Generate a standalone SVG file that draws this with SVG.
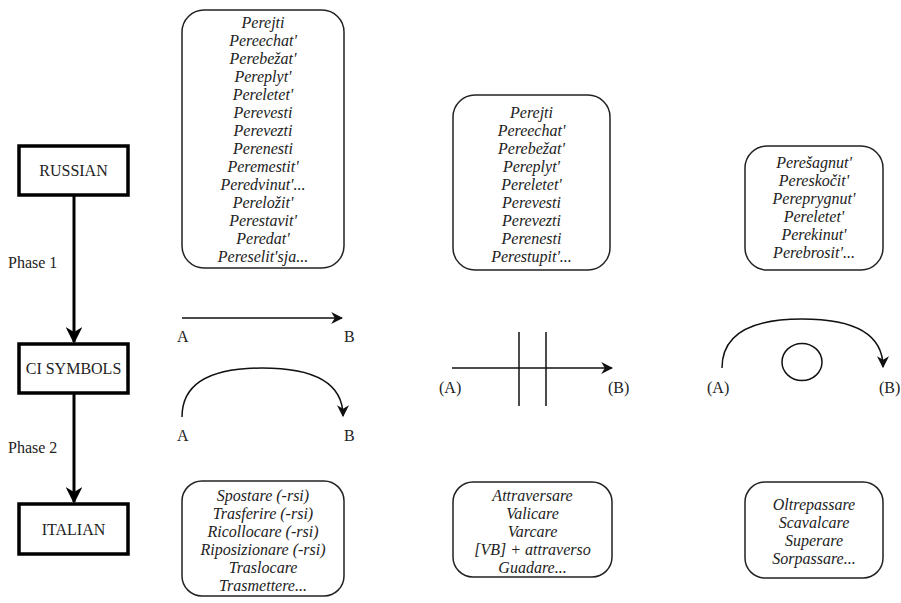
<svg xmlns="http://www.w3.org/2000/svg" width="901" height="603" viewBox="0 0 901 603">
<defs>
<style>
.box{fill:#fff;stroke:#000;stroke-width:3.5}
.rbox{fill:#fff;stroke:#222;stroke-width:1.5}
.lbl{font-family:"Liberation Serif",serif;font-size:16px;fill:#222;text-anchor:middle}
.it{font-family:"Liberation Serif",serif;font-size:16px;font-style:italic;fill:#222;text-anchor:middle}
.sm{font-family:"Liberation Serif",serif;font-size:16px;fill:#222}
.thick{stroke:#000;stroke-width:3;fill:none}
.thin{stroke:#111;stroke-width:1.5;fill:none}
</style>
<marker id="big" viewBox="0 0 10 10" refX="9" refY="5" markerWidth="5.5" markerHeight="5.5" markerUnits="strokeWidth" orient="auto">
<path d="M0,0 L10,5 L0,10 L3,5 Z" fill="#000"/>
</marker>
<marker id="sm" viewBox="0 0 10 10" refX="9" refY="5" markerWidth="8" markerHeight="8" markerUnits="strokeWidth" orient="auto">
<path d="M0,0 L10,5 L0,10 L3,5 Z" fill="#111"/>
</marker>
</defs>
<rect width="901" height="603" fill="#fff"/>

<g id="connectors">
<line class="thick" x1="74" y1="196" x2="74" y2="342" marker-end="url(#big)"/>
<line class="thick" x1="74" y1="394" x2="74" y2="502" marker-end="url(#big)"/>
<text class="sm" x="8" y="268">Phase 1</text>
<text class="sm" x="8" y="453">Phase 2</text>
</g>

<g id="russian"><rect class="box" x="19" y="146" width="109" height="49"/><text class="lbl" x="73.5" y="176">RUSSIAN</text></g>
<g id="ci-symbols"><rect class="box" x="19" y="344" width="109" height="49"/><text class="lbl" x="73.5" y="374">CI SYMBOLS</text></g>
<g id="italian"><rect class="box" x="19" y="504" width="109" height="50"/><text class="lbl" x="73.5" y="535">ITALIAN</text></g>

<g id="ru-list-1">
<rect class="rbox" x="182" y="10" width="162" height="258" rx="22"/>
<text class="it" x="263" y="28">Perejti</text>
<text class="it" x="263" y="46">Pereechat'</text>
<text class="it" x="263" y="64">Perebežat'</text>
<text class="it" x="263" y="82">Pereplyt'</text>
<text class="it" x="263" y="100">Pereletet'</text>
<text class="it" x="263" y="118">Perevesti</text>
<text class="it" x="263" y="136">Perevezti</text>
<text class="it" x="263" y="154">Perenesti</text>
<text class="it" x="263" y="172">Peremestit'</text>
<text class="it" x="263" y="190">Peredvinut'...</text>
<text class="it" x="263" y="208">Pereložit'</text>
<text class="it" x="263" y="226">Perestavit'</text>
<text class="it" x="263" y="244">Peredat'</text>
<text class="it" x="263" y="262">Pereselit'sja...</text>
</g>

<g id="ru-list-2">
<rect class="rbox" x="453" y="95" width="157" height="175" rx="22"/>
<text class="it" x="531.5" y="118">Perejti</text>
<text class="it" x="531.5" y="136">Pereechat'</text>
<text class="it" x="531.5" y="154">Perebežat'</text>
<text class="it" x="531.5" y="172">Pereplyt'</text>
<text class="it" x="531.5" y="190">Pereletet'</text>
<text class="it" x="531.5" y="208">Perevesti</text>
<text class="it" x="531.5" y="226">Perevezti</text>
<text class="it" x="531.5" y="244">Perenesti</text>
<text class="it" x="531.5" y="262">Perestupit'...</text>
</g>

<g id="ru-list-3">
<rect class="rbox" x="745" y="146" width="138" height="124" rx="22"/>
<text class="it" x="814" y="168">Perešagnut'</text>
<text class="it" x="814" y="186">Pereskočit'</text>
<text class="it" x="814" y="204">Pereprygnut'</text>
<text class="it" x="814" y="222">Pereletet'</text>
<text class="it" x="814" y="240">Perekinut'</text>
<text class="it" x="814" y="258">Perebrosit'...</text>
</g>

<g id="symbol-move">
<line class="thin" x1="182" y1="318" x2="342" y2="318" marker-end="url(#sm)"/>
<text class="sm" x="177" y="342">A</text>
<text class="sm" x="344" y="342">B</text>
<path class="thin" d="M182,417 C182,382 212,368 262,368 C312,368 343,382 343,416" marker-end="url(#sm)"/>
<text class="sm" x="177" y="441">A</text>
<text class="sm" x="344" y="441">B</text>
</g>

<g id="symbol-cross">
<line class="thin" x1="452" y1="368" x2="612" y2="368" marker-end="url(#sm)"/>
<line class="thin" x1="519" y1="332" x2="519" y2="406"/>
<line class="thin" x1="546" y1="332" x2="546" y2="406"/>
<text class="sm" x="439" y="393">(A)</text>
<text class="sm" x="608" y="393">(B)</text>
</g>

<g id="symbol-over">
<path class="thin" d="M722,368 C722,333 752,319 802,319 C852,319 883,333 883,367" marker-end="url(#sm)"/>
<ellipse class="thin" cx="802" cy="362" rx="20" ry="18.5"/>
<text class="sm" x="707" y="393">(A)</text>
<text class="sm" x="879" y="393">(B)</text>
</g>

<g id="it-list-1">
<rect class="rbox" x="182" y="481" width="162" height="115" rx="20"/>
<text class="it" x="263" y="501">Spostare (-rsi)</text>
<text class="it" x="263" y="519">Trasferire (-rsi)</text>
<text class="it" x="263" y="537">Ricollocare (-rsi)</text>
<text class="it" x="263" y="555">Riposizionare (-rsi)</text>
<text class="it" x="263" y="573">Traslocare</text>
<text class="it" x="263" y="591">Trasmettere...</text>
</g>

<g id="it-list-2">
<rect class="rbox" x="453" y="482" width="159" height="95" rx="20"/>
<text class="it" x="532.5" y="501">Attraversare</text>
<text class="it" x="532.5" y="519">Valicare</text>
<text class="it" x="532.5" y="537">Varcare</text>
<text class="it" x="532.5" y="555">[VB] + attraverso</text>
<text class="it" x="532.5" y="573">Guadare...</text>
</g>

<g id="it-list-3">
<rect class="rbox" x="745" y="482" width="138" height="96" rx="20"/>
<text class="it" x="814" y="510">Oltrepassare</text>
<text class="it" x="814" y="528">Scavalcare</text>
<text class="it" x="814" y="546">Superare</text>
<text class="it" x="814" y="564">Sorpassare...</text>
</g>
</svg>
